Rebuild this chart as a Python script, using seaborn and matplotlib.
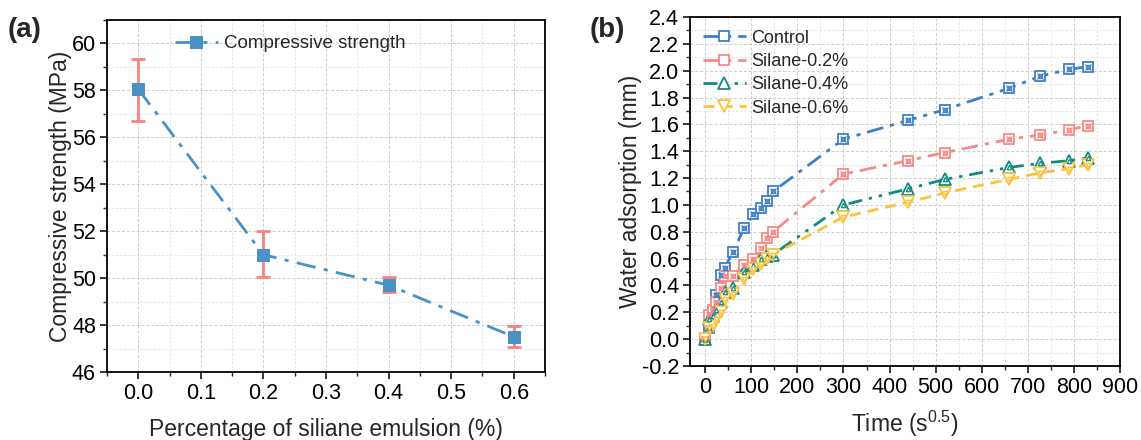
import numpy as np
import pandas as pd
import matplotlib
matplotlib.use("Agg")
import matplotlib.pyplot as plt
import seaborn as sns
from matplotlib.ticker import MultipleLocator, FormatStrFormatter

# ---------------- data ----------------
pct = [0.0, 0.2, 0.4, 0.6]
strength = [58.05, 51.0, 49.7, 47.5]
err_up = [1.3, 1.0, 0.35, 0.45]
err_dn = [1.35, 0.95, 0.3, 0.45]

time = [0, 8, 17, 24, 35, 42, 60, 85, 104, 120, 134, 147,
        300, 440, 520, 660, 727, 790, 830]
control = [0.0, 0.08, 0.20, 0.33, 0.48, 0.53, 0.65, 0.83, 0.93, 0.98, 1.03, 1.10,
           1.49, 1.63, 1.71, 1.87, 1.96, 2.01, 2.03]
silane02 = [0.0, 0.18, 0.22, 0.28, 0.38, 0.47, 0.47, 0.55, 0.60, 0.68, 0.75, 0.80,
            1.23, 1.33, 1.39, 1.49, 1.52, 1.56, 1.59]
silane04 = [0.0, 0.15, 0.17, 0.22, 0.28, 0.35, 0.38, 0.50, 0.55, 0.60, 0.62, 0.63,
            1.00, 1.12, 1.19, 1.28, 1.31, 1.33, 1.35]
silane06 = [0.0, 0.08, 0.10, 0.15, 0.20, 0.30, 0.34, 0.45, 0.52, 0.56, 0.60, 0.63,
            0.91, 1.02, 1.09, 1.19, 1.24, 1.27, 1.30]
series_names = ["Control", "Silane-0.2%", "Silane-0.4%", "Silane-0.6%"]

# ---------------- style ----------------
sns.set_theme(style="ticks")
plt.rcParams["font.family"] = ["Liberation Sans", "DejaVu Sans"]
plt.rcParams["mathtext.fontset"] = "custom"
plt.rcParams["mathtext.rm"] = "Liberation Sans"
plt.rcParams["mathtext.it"] = "Liberation Sans:italic"

fig = plt.figure(figsize=(11.41, 4.40), dpi=100)
axA = fig.add_axes([107 / 1141, 1 - 372 / 440, 438 / 1141, 352 / 440])
axB = fig.add_axes([690 / 1141, 1 - 366 / 440, 430 / 1141, 349 / 440])

FS = 16.5    # axis labels
TFS = 15.5   # tick labels
LFS = 13     # legend

def style_axes(ax):
    for s in ax.spines.values():
        s.set_linewidth(1.3)
        s.set_color("black")
    ax.tick_params(which="major", direction="out", length=5, width=1.1,
                   labelsize=TFS, colors="black", pad=3)
    ax.tick_params(which="minor", direction="out", length=3, width=1.0)
    ax.grid(True, which="major", linestyle=(0, (3, 2)), color="#cccccc", linewidth=0.7)
    ax.grid(True, which="minor", linestyle=(0, (3, 2)), color="#e0e0e0", linewidth=0.6)
    ax.set_axisbelow(True)

# ---------------- panel (a) ----------------
blueA = "#4a92c6"
dfA = pd.DataFrame({"pct": pct, "strength": strength})
sns.lineplot(data=dfA, x="pct", y="strength", ax=axA, color=blueA,
             linewidth=2.0, linestyle=(0, (7, 3, 1.5, 3)), marker="s",
             markersize=8, markeredgecolor=blueA, markerfacecolor=blueA,
             label="Compressive strength", zorder=4)
axA.errorbar(pct, strength, yerr=[err_dn, err_up], fmt="none",
             ecolor="#f4837f", elinewidth=2.0, capsize=5, capthick=2.0, zorder=3)
axA.set_xlim(-0.05, 0.65)
axA.set_ylim(46, 61)
axA.xaxis.set_major_locator(MultipleLocator(0.1))
axA.xaxis.set_minor_locator(MultipleLocator(0.05))
axA.yaxis.set_major_locator(MultipleLocator(2))
axA.yaxis.set_minor_locator(MultipleLocator(1))
axA.xaxis.set_major_formatter(FormatStrFormatter("%.1f"))
style_axes(axA)
axA.set_xlabel("Percentage of siliane emulsion (%)", fontsize=FS, labelpad=10)
axA.set_ylabel("Compressive strength (MPa)", fontsize=FS, labelpad=0)
axA.legend(loc="upper left", bbox_to_anchor=(0.12, 1.0), frameon=False,
           fontsize=LFS + 0.5, handlelength=2.3, handletextpad=0.35,
           borderaxespad=0.4)
fig.text(8 / 1141, 1 - 30 / 440, "(a)", fontsize=20, fontweight="bold",
         va="center", ha="left")

# ---------------- panel (b) ----------------
colors = ["#3f7fc6", "#f68a87", "#128a80", "#fbc23c"]
markers = ["s", "s", "^", "v"]
dashes = [(0, (6, 2.5, 1.5, 2.5)), (0, (6, 2.5, 1.5, 2.5)),
          (0, (5, 2.5, 1.2, 2.5, 1.2, 2.5)), (0, (4, 2.5))]
ys = [control, silane02, silane04, silane06]

for name, y, c, m, d in zip(series_names, ys, colors, markers, dashes):
    df = pd.DataFrame({"time": time, "val": y})
    sns.lineplot(data=df, x="time", y="val", ax=axB, color=c, linewidth=2.0,
                 linestyle=d, marker=m, markersize=7.5 if m == "s" else 8.5,
                 markeredgecolor=c, markeredgewidth=1.3,
                 markerfacecolor="white", label=name, zorder=4)
    if m == "s":
        sns.lineplot(data=df, x="time", y="val", ax=axB, linestyle="none",
                     marker="x", markersize=4.2, markeredgecolor=c,
                     markeredgewidth=0.9, zorder=5, legend=False)
        sns.lineplot(data=df, x="time", y="val", ax=axB, linestyle="none",
                     marker="o", markersize=3.2, markeredgecolor=c,
                     markerfacecolor="none", markeredgewidth=0.8, zorder=5,
                     legend=False)
    else:
        sns.lineplot(data=df, x="time", y="val", ax=axB, linestyle="none",
                     marker=m, markersize=3.2, markeredgecolor=c,
                     markerfacecolor="white", markeredgewidth=0.9, zorder=5,
                     legend=False)

axB.set_xlim(-33, 900)
axB.set_ylim(-0.2, 2.4)
axB.xaxis.set_major_locator(MultipleLocator(100))
axB.xaxis.set_minor_locator(MultipleLocator(50))
axB.yaxis.set_major_locator(MultipleLocator(0.2))
axB.yaxis.set_minor_locator(MultipleLocator(0.1))
axB.yaxis.set_major_formatter(FormatStrFormatter("%.1f"))
style_axes(axB)
axB.set_xlabel("Time (s$^{0.5}$)", fontsize=FS, labelpad=8)
axB.set_ylabel("Water adsorption (mm)", fontsize=FS, labelpad=0)
axB.legend(loc="upper left", bbox_to_anchor=(0.0, 1.0), frameon=False,
           fontsize=LFS, handlelength=2.4, labelspacing=0.35,
           borderaxespad=0.3, handletextpad=0.3)
fig.text(590 / 1141, 1 - 30 / 440, "(b)", fontsize=20, fontweight="bold",
         va="center", ha="left")

fig.savefig("out.png", dpi=100)
